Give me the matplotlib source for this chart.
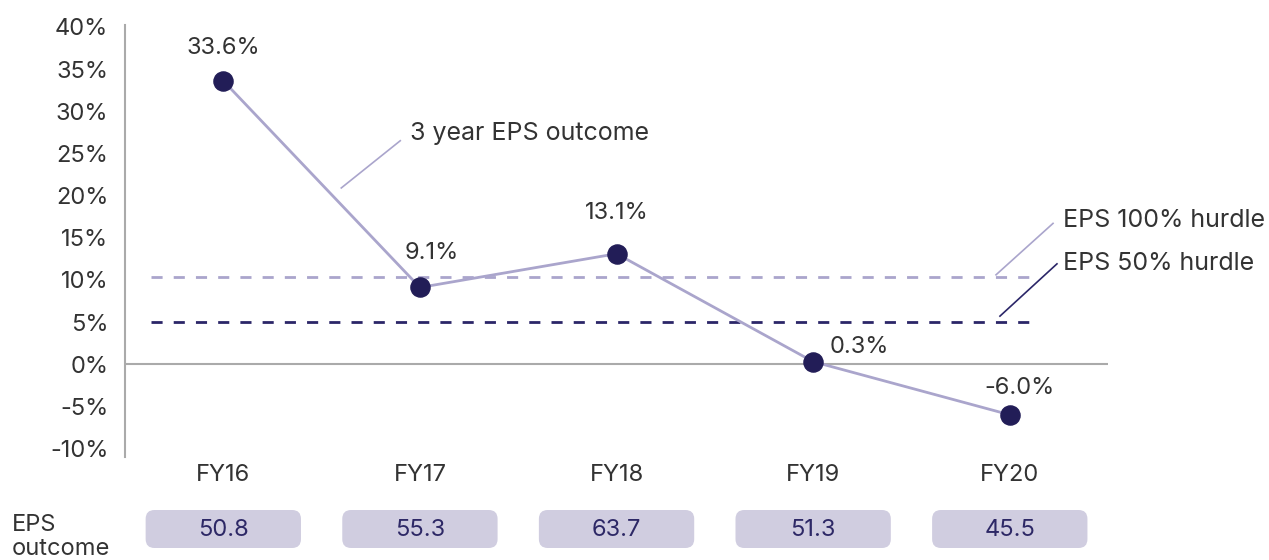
import matplotlib.pyplot as plt
from matplotlib.patches import FancyBboxPatch

years = ["FY16", "FY17", "FY18", "FY19", "FY20"]
eps_growth = [33.6, 9.1, 13.1, 0.3, -6.0]
eps_outcome = [50.8, 55.3, 63.7, 51.3, 45.5]
hurdle_100 = 10.3
hurdle_50 = 5.0
yticks = [-10, -5, 0, 5, 10, 15, 20, 25, 30, 35, 40]

# label offsets from each dot, in pixels
label_off = [(0, 33), (12, 34), (0, 41), (46, 15), (10, 27)]

line_col = "#aaa5cc"
dot_col = "#221d57"
dark_dash = "#2b2668"
box_col = "#d0cde0"
text_col = "#333333"

plt.rcParams['font.family'] = ['Inter', 'DejaVu Sans']
fs = 17

fig = plt.figure(figsize=(12.69, 5.6), dpi=100)
ax = fig.add_axes([0.0985, 0.184, 0.7747, 0.771])

x = list(range(len(years)))
ax.plot(x, eps_growth, color=line_col, linewidth=2, zorder=3)
ax.scatter(x, eps_growth, s=190, color=dot_col, zorder=4)

ax.plot([-0.37, 4.12], [hurdle_100, hurdle_100], color=line_col, linewidth=2,
        linestyle=(0, (4, 4)), zorder=2)
ax.plot([-0.37, 4.12], [hurdle_50, hurdle_50], color=dark_dash, linewidth=2,
        linestyle=(0, (4, 4)), zorder=2)
ax.axhline(0, color="#aaaaaa", linewidth=1.5, zorder=1)

for i, v in enumerate(eps_growth):
    ax.annotate(f"{v:.1f}%", (i, v), xytext=label_off[i],
                textcoords="offset pixels", ha="center", va="center",
                fontsize=fs, color=text_col)

# annotations
ax.plot([0.6, 0.9], [20.9, 26.5], color=line_col, linewidth=1.2)
ax.text(0.95, 27.3, "3 year EPS outcome", fontsize=18, color=text_col,
        va="center", ha="left")
ax.plot([3.93, 4.22], [10.6, 16.7], color=line_col, linewidth=1.2, clip_on=False)
ax.text(4.27, 17.0, "EPS 100% hurdle", fontsize=18, color=text_col,
        va="center", ha="left", clip_on=False)
ax.plot([3.95, 4.24], [5.7, 11.9], color=dark_dash, linewidth=1.2, clip_on=False)
ax.text(4.27, 12.0, "EPS 50% hurdle", fontsize=18, color=text_col,
        va="center", ha="left", clip_on=False)

ax.set_xlim(-0.5, 4.5)
ax.set_ylim(-11, 40.2)
ax.set_yticks(yticks)
ax.set_yticklabels([f"{t}%" for t in yticks], fontsize=fs, color=text_col)
ax.set_xticks(x)
ax.set_xticklabels(years, fontsize=fs, color=text_col)
ax.tick_params(axis="both", length=0, pad=5)
ax.tick_params(axis="y", pad=12)
for s in ["top", "right", "bottom"]:
    ax.spines[s].set_visible(False)
ax.spines["left"].set_color("#aaaaaa")
ax.spines["left"].set_linewidth(1.5)

# EPS outcome boxes (axes in pixel-like units on y)
bx = fig.add_axes([0.0985, 0.0, 0.7747, 0.1])
bx.set_xlim(-0.5, 4.5)
bx.set_ylim(0, 56)
bx.axis("off")
for i, v in enumerate(eps_outcome):
    p = FancyBboxPatch((i - 0.395, 12), 0.79, 38,
                       boxstyle="round,pad=0,rounding_size=0.045",
                       mutation_aspect=197, facecolor=box_col, edgecolor="none")
    bx.add_patch(p)
    bx.text(i, 30, f"{v:.1f}", ha="center", va="center", fontsize=fs,
            color="#2d2866")

fig.text(0.009, 0.041, "EPS\noutcome", fontsize=fs, color=text_col,
         ha="left", va="center", linespacing=1.1)

fig.savefig("out.png", dpi=100)
